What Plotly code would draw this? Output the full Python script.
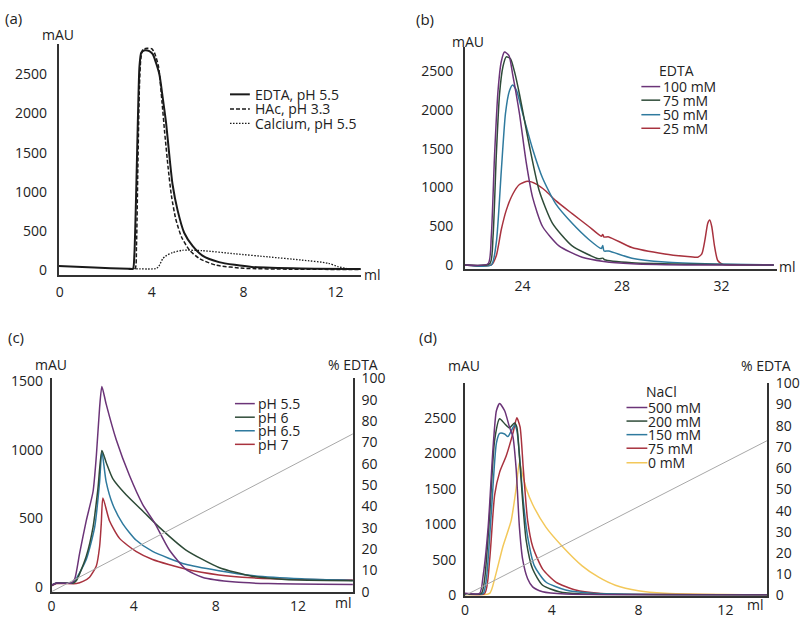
import plotly.graph_objects as go

W, H = 800, 623

# ---- (a) elution with different buffers ----
a_edta_x = [-0.05, 1.5, 3.0, 3.19, 3.25, 3.32, 3.4, 3.47, 3.55, 3.7, 3.9, 4.05, 4.2, 4.34, 4.48, 4.63, 4.77,
            4.91, 5.13, 5.42, 5.78, 6.21, 6.93, 8.36, 10.5, 13.1]
a_edta_y = [50, 30, 14, 15, 200, 900, 1900, 2600, 2780, 2810, 2800, 2760, 2640, 2497, 2208, 1877, 1464,
            1092, 761, 471, 306, 182, 99, 37, 16, 10]
a_hac_x = [3.0, 3.28, 3.34, 3.4, 3.47, 3.53, 3.62, 3.8, 4.0, 4.12, 4.3, 4.45, 4.57, 4.72, 4.86, 5.05, 5.3,
           5.65, 6.1, 6.8, 8.0, 10.0, 13.1]
a_hac_y = [12, 15, 300, 1300, 2350, 2700, 2820, 2835, 2830, 2780, 2600, 2150, 1750, 1300, 950, 650, 420,
           250, 140, 60, 20, 8, 5]
a_ca_x = [3.19, 4.18, 4.3, 4.48, 4.6, 4.91, 5.34, 6.21, 7.63, 9.09, 10.52, 11.68, 12.11, 12.54, 13.1]
a_ca_y = [15, 15, 40, 140, 175, 220, 250, 245, 205, 165, 125, 85, 40, 15, 10]

# ---- (b) EDTA concentration ----
b_100_x = [21.69, 22.62, 22.75, 22.88, 23.02, 23.15, 23.28, 23.46, 23.61, 23.88, 24.15, 24.41, 24.81,
           25.47, 26.4, 27.27, 28.4, 31.05, 34.1]
b_100_y = [0, 15, 370, 1410, 2245, 2620, 2745, 2700, 2454, 1954, 1329, 871, 496, 246, 100, 46, 17, 0, 0]
b_75_x = [21.69, 22.69, 22.82, 22.95, 23.08, 23.22, 23.35, 23.52, 23.68, 23.88, 24.08, 24.28, 24.68,
          25.21, 26.0, 27.07, 27.23, 27.3, 28.4, 31.05, 34.1]
b_75_y = [0, 17, 370, 1410, 2200, 2560, 2683, 2660, 2495, 2204, 1870, 1537, 954, 537, 246, 79, 88, 68,
          29, 8, 0]
b_50_x = [21.69, 22.75, 22.95, 23.15, 23.32, 23.48, 23.61, 23.77, 24.01, 24.41, 24.81, 25.34, 26.0,
          26.67, 27.17, 27.23, 27.28, 27.47, 28.4, 29.72, 31.72, 34.1]
b_50_y = [0, 0, 287, 1204, 1954, 2245, 2320, 2245, 1954, 1496, 1121, 787, 537, 329, 212, 250, 180, 180,
          87, 37, 12, 0]
b_25_x = [21.69, 22.75, 22.95, 23.15, 23.35, 23.61, 23.88, 24.21, 24.54, 24.94, 25.34, 26.0, 26.67,
          27.17, 27.23, 27.28, 27.47, 28.4, 29.72, 30.52, 31.05, 31.21, 31.34, 31.45, 31.53, 31.61,
          31.72, 31.85, 32.05, 32.38, 34.1]
b_25_y = [0, 0, 120, 454, 704, 912, 1037, 1079, 1046, 954, 829, 662, 496, 371, 392, 360, 362, 225,
          142, 112, 100, 142, 329, 537, 579, 496, 246, 58, 8, 0, 0]

# ---- (c) pH ----
c_55_x = [0, 0.24, 0.97, 1.13, 1.37, 1.69, 2.02, 2.18, 2.34, 2.45, 2.66, 3.15, 3.79, 4.44, 5.0, 5.73,
          6.53, 7.34, 8.95, 10.56, 14.68]
c_55_y = [12, 28, 28, 59, 248, 483, 696, 955, 1309, 1462, 1333, 1073, 814, 601, 472, 271, 130, 71, 35,
          24, 17]
c_6_x = [0, 0.24, 1.05, 1.21, 1.69, 2.02, 2.26, 2.45, 2.66, 2.98, 3.63, 4.44, 5.24, 6.53, 8.15, 9.76,
         11.37, 14.68]
c_6_y = [12, 28, 28, 47, 224, 436, 719, 995, 908, 790, 672, 554, 436, 271, 142, 78, 54, 45]
c_65_x = [0, 0.24, 1.05, 1.18, 1.69, 2.1, 2.34, 2.45, 2.66, 2.98, 3.47, 4.11, 4.92, 6.53, 8.15, 9.76,
          12.18, 14.68]
c_65_y = [12, 28, 28, 54, 200, 436, 766, 990, 766, 601, 460, 342, 259, 165, 118, 83, 59, 47]
c_7_x = [0, 0.24, 1.21, 1.53, 1.85, 2.18, 2.34, 2.42, 2.5, 2.82, 3.31, 4.11, 4.92, 6.53, 8.15, 9.76,
         12.18, 14.68]
c_7_y = [7, 24, 24, 40, 71, 153, 295, 460, 649, 483, 354, 259, 200, 130, 87, 66, 54, 50]
c_grad_x = [0, 14.68]
c_grad_y = [0, 74]

# ---- (d) NaCl ----
d_500_x = [0, 0.68, 0.84, 1.07, 1.29, 1.45, 1.6, 1.83, 2.05, 2.21, 2.36, 2.51, 2.66, 2.89, 3.12, 3.58,
           4.64, 13.93]
d_500_y = [23, 23, 274, 960, 2058, 2606, 2707, 2606, 2378, 2240, 1783, 960, 503, 229, 114, 46, 14, 0]
d_200_x = [0, 0.76, 0.91, 1.14, 1.37, 1.6, 1.83, 2.05, 2.28, 2.39, 2.51, 2.66, 2.82, 3.12, 3.58, 4.34,
           5.4, 13.93]
d_200_y = [14, 23, 229, 1143, 2195, 2492, 2423, 2364, 2433, 2378, 1966, 1326, 777, 366, 137, 46, 14, 0]
d_150_x = [0, 0.84, 0.99, 1.22, 1.45, 1.6, 1.83, 1.98, 2.28, 2.39, 2.54, 2.69, 2.89, 3.2, 3.73, 4.64,
           5.86, 13.93]
d_150_y = [14, 23, 229, 1189, 2149, 2286, 2277, 2240, 2400, 2332, 1875, 1326, 823, 412, 183, 69, 23, 0]
d_75_x = [0, 0.91, 1.14, 1.37, 1.6, 1.9, 2.21, 2.39, 2.54, 2.69, 2.89, 3.12, 3.58, 4.19, 5.1, 6.16,
          7.69, 13.93]
d_75_y = [14, 23, 503, 1417, 1738, 1966, 2286, 2506, 2378, 1783, 1052, 686, 366, 183, 69, 23, 9, 0]
d_0_x = [0, 1.14, 1.37, 1.75, 2.13, 2.36, 2.51, 2.66, 2.82, 3.12, 3.73, 4.49, 5.4, 6.16, 6.93, 7.99,
         9.21, 13.93]
d_0_y = [0, 23, 229, 686, 1052, 1509, 1875, 1692, 1509, 1280, 960, 686, 412, 251, 137, 59, 23, 0]
d_grad_x = [0, 13.93]
d_grad_y = [0, 73]

a_labels = ["EDTA, pH 5.5", "HAc, pH 3.3", "Calcium, pH 5.5"]
b_labels = ["100 mM", "75 mM", "50 mM", "25 mM"]
c_labels = ["pH 5.5", "pH 6", "pH 6.5", "pH 7"]
d_labels = ["500 mM", "200 mM", "150 mM", "75 mM", "0 mM"]

PURPLE = "#6b3478"
GREEN = "#2e4b38"
BLUE = "#2f7a9e"
RED = "#a8323e"
YELLOW = "#f3c85a"
BLACK = "#1a1a1a"
GRAY = "#a8a8a8"
FONT = dict(family="Open Sans", size=14, color="#222")


def px(x):
    return x / W


def py(y):
    return 1 - y / H


def curve(x, y, color, xa, ya, dash="solid", width=1.5):
    return go.Scatter(x=x, y=y, mode="lines", xaxis=xa, yaxis=ya, showlegend=False, hoverinfo="skip",
                      line=dict(color=color, width=width, dash=dash, shape="spline", smoothing=0.6))


fig = go.Figure()
fig.add_trace(curve(a_ca_x, a_ca_y, BLACK, "x", "y", dash="1.5px,1.5px", width=1.3))
fig.add_trace(curve(a_hac_x, a_hac_y, BLACK, "x", "y", dash="4px,2px", width=1.5))
fig.add_trace(curve(a_edta_x, a_edta_y, BLACK, "x", "y", width=2))

fig.add_trace(curve(b_25_x, b_25_y, RED, "x2", "y2"))
fig.add_trace(curve(b_50_x, b_50_y, BLUE, "x2", "y2"))
fig.add_trace(curve(b_75_x, b_75_y, GREEN, "x2", "y2"))
fig.add_trace(curve(b_100_x, b_100_y, PURPLE, "x2", "y2"))

fig.add_trace(go.Scatter(x=c_grad_x, y=c_grad_y, mode="lines", xaxis="x3", yaxis="y5", showlegend=False,
                         hoverinfo="skip", line=dict(color=GRAY, width=1)))
fig.add_trace(curve(c_7_x, c_7_y, RED, "x3", "y3"))
fig.add_trace(curve(c_65_x, c_65_y, BLUE, "x3", "y3"))
fig.add_trace(curve(c_6_x, c_6_y, GREEN, "x3", "y3"))
fig.add_trace(curve(c_55_x, c_55_y, PURPLE, "x3", "y3"))

fig.add_trace(go.Scatter(x=d_grad_x, y=d_grad_y, mode="lines", xaxis="x4", yaxis="y6", showlegend=False,
                         hoverinfo="skip", line=dict(color=GRAY, width=1)))
fig.add_trace(curve(d_0_x, d_0_y, YELLOW, "x4", "y4"))
fig.add_trace(curve(d_75_x, d_75_y, RED, "x4", "y4"))
fig.add_trace(curve(d_150_x, d_150_y, BLUE, "x4", "y4"))
fig.add_trace(curve(d_200_x, d_200_y, GREEN, "x4", "y4"))
fig.add_trace(curve(d_500_x, d_500_y, PURPLE, "x4", "y4"))

ax = dict(showgrid=False, zeroline=False, showline=True, linecolor="#333", linewidth=1.5, ticks="",
          tickfont=FONT, ticklabelstandoff=4)

fig.update_layout(
    width=W, height=H, margin=dict(l=0, r=0, t=0, b=0),
    paper_bgcolor="white", plot_bgcolor="white", font=FONT,
    xaxis=dict(ax, domain=[px(55), px(360)], range=[-0.05, 13.1], tickvals=[0, 4, 8, 12], anchor="y"),
    yaxis=dict(ax, domain=[py(273), py(35)], range=[-62, 2891], tickvals=[0, 500, 1000, 1500, 2000, 2500],
               anchor="x", ticklabelstandoff=7),
    xaxis2=dict(ax, domain=[px(465), px(780)], range=[21.69, 34.24], tickvals=[24, 28, 32], anchor="y2"),
    yaxis2=dict(ax, domain=[py(267), py(38)], range=[-50, 2812], tickvals=[0, 500, 1000, 1500, 2000, 2500],
                anchor="x2", ticklabelstandoff=7),
    xaxis3=dict(ax, domain=[px(48), px(352)], range=[0, 14.68], tickvals=[0, 4, 8, 12], anchor="y3",
                ticklabelstandoff=1),
    yaxis3=dict(ax, domain=[py(600), py(380)], range=[-35, 1521], tickvals=[0, 500, 1000, 1500], anchor="x3"),
    yaxis5=dict(ax, domain=[py(600), py(380)], range=[0, 100], dtick=10, anchor="x3", overlaying="y3",
                side="right"),
    xaxis4=dict(ax, domain=[px(465), px(770)], range=[0, 13.93], tickvals=[0, 4, 8, 12], anchor="y4",
                ticklabelstandoff=1),
    yaxis4=dict(ax, domain=[py(604), py(385)], range=[-9, 2995], tickvals=[0, 500, 1000, 1500, 2000, 2500],
                anchor="x4"),
    yaxis6=dict(ax, domain=[py(604), py(385)], range=[0, 100], dtick=10, anchor="x4", overlaying="y4",
                side="right"),
)


def text(x, y, s, anchor="center", size=14):
    fig.add_annotation(x=px(x), y=py(y), xref="paper", yref="paper", text=s, showarrow=False,
                       xanchor=anchor, yanchor="middle", borderpad=0, font=dict(FONT, size=size))


def sample(x0, x1, y, color, dash="solid", width=1.5):
    fig.add_shape(type="line", xref="paper", yref="paper", x0=px(x0), x1=px(x1), y0=py(y), y1=py(y),
                  line=dict(color=color, width=width, dash=dash))


# panel letters and axis titles
for s, x, y in [("(a)", 10, 8), ("(b)", 425, 9), ("(c)", 12, 337), ("(d)", 428, 337)]:
    text(x, y, s, size=15)
for x, y in [(54, 25), (468, 32), (47, 366), (464, 367)]:
    text(x, y, "mAU")
text(352, 366, "% EDTA")
text(769, 367, "% EDTA")
text(372, 273, "ml")
text(781, 265, "ml", anchor="left")
text(343, 611, "ml")
text(758, 613, "ml")

# legends
for lab, y, dash, w in zip(a_labels, [87, 102, 117], ["solid", "4px,2px", "1.5px,1.5px"], [2, 1.5, 1.3]):
    sample(228, 248, y, BLACK, dash, w)
    text(252, y, lab, anchor="left")

text(678, 62, "EDTA")
for lab, y, col in zip(b_labels, [79, 93, 108, 122], [PURPLE, GREEN, BLUE, RED]):
    sample(643, 662, y, col)
    text(664, y, lab, anchor="left")

for lab, y, col in zip(c_labels, [406, 420, 434, 448], [PURPLE, GREEN, BLUE, RED]):
    sample(233, 253, y, col)
    text(255, y, lab, anchor="left")

text(663, 393, "NaCl")
for lab, y, col in zip(d_labels, [410, 424, 438, 452, 467], [PURPLE, GREEN, BLUE, RED, YELLOW]):
    sample(628, 649, y, col)
    text(649, y, lab, anchor="left")

# the page's default body margin would shift the whole figure
fig.write_html("out.html", config={"displayModeBar": False},
               post_script="document.body.style.margin='0px';")
